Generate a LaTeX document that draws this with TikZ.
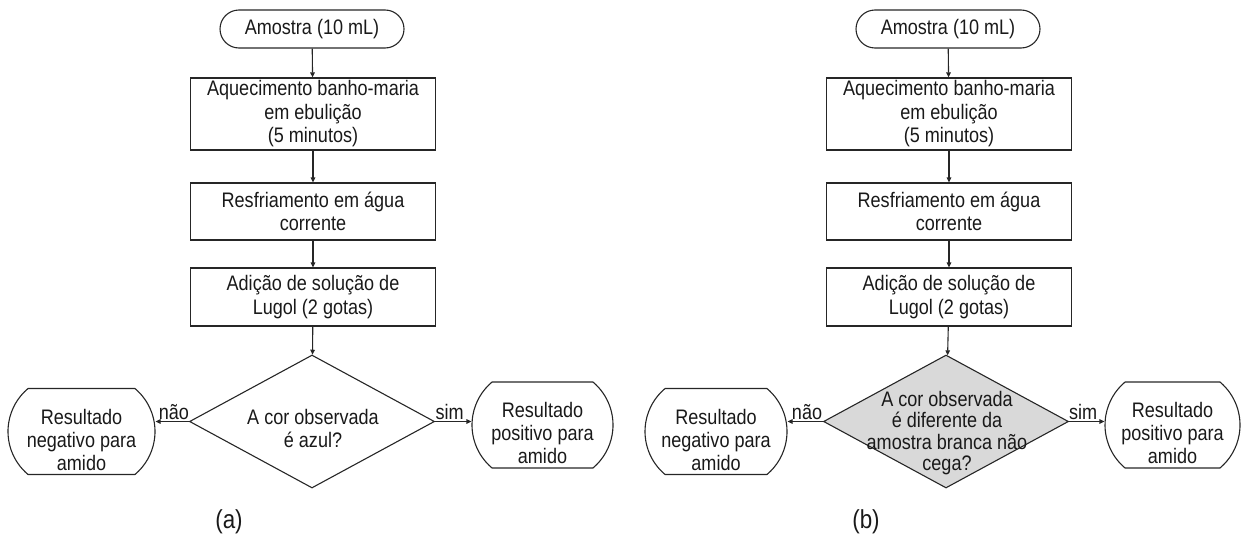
\documentclass[tikz,border=0pt]{standalone}
\usepackage{fontspec}
\setmainfont{Liberation Sans}[FakeStretch=0.86]
\usetikzlibrary{shapes.misc,shapes.geometric,arrows.meta}
\tikzset{
  ln/.style={draw=black!85, line width=1.1pt},
  arr/.style={ln, -{Triangle[length=5pt,width=4.5pt]}},
  startterm/.style={ln, rounded rectangle, rounded rectangle arc length=180, minimum width=184pt, minimum height=38pt, inner sep=0pt, font=\fontsize{21}{24}\selectfont, text=black!90},
  resterm/.style={ln, rounded rectangle, rounded rectangle arc length=100, minimum height=86pt, inner sep=0pt},
  stepbox/.style={ln, rectangle, minimum width=245pt, inner sep=0pt, align=center, font=\fontsize{21}{23.5}\selectfont, text=black!90},
  decision/.style={ln, diamond, minimum width=245pt, minimum height=133pt, inner sep=0pt},
  txt/.style={align=center, inner sep=0pt, font=\fontsize{21}{23}\selectfont, text=black!90},
  lbl/.style={above, inner sep=1.5pt, font=\fontsize{21}{24}\selectfont, text=black!90},
  captxt/.style={font=\fontsize{26}{28}\selectfont, text=black!90, inner sep=0pt}
}
\begin{document}
\begin{tikzpicture}[x=1pt,y=-1pt]
\useasboundingbox (0,0) rectangle (1257,546);
% ---------- (a) ----------
\node[startterm] (sA) at (312,29) {Amostra (10 mL)};
\node[stepbox, minimum height=72pt] (b1A) at (313,114) {Aquecimento banho-maria\\em ebulição\\(5 minutos)};
\node[stepbox, minimum height=57pt] (b2A) at (313,211.5) {Resfriamento em água\\corrente};
\node[stepbox, minimum height=58pt] (b3A) at (313,297) {Adição de solução de\\Lugol (2 gotas)};
\node[decision] (dA) at (312,421.5) {};
\node[txt] (dAt) at (313,428) {A cor observada\\é azul?};
\node[resterm, minimum width=147pt] (nA) at (81.5,431.5) {};
\node[txt] (nAt) at (81.5,440) {Resultado\\negativo para\\amido};
\node[resterm, minimum width=141pt] (pA) at (542.5,425) {};
\node[txt] (pAt) at (542.5,433) {Resultado\\positivo para\\amido};
\draw[arr] (sA) -- (b1A);
\draw[arr] (b1A) -- (b2A);
\draw[arr] (b2A) -- (b3A);
\draw[arr] (b3A) -- (dA);
\draw[arr] (dA.west) -- (dA.west -| nA.east) node[lbl, pos=0.45] (naoA) {não};
\draw[arr] (dA.east) -- (dA.east -| pA.west) node[lbl, pos=0.4] (simA) {sim};
\node[captxt] (capA) at (229,522) {(a)};
% ---------- (b) ----------
\node[startterm] (sB) at (948,29) {Amostra (10 mL)};
\node[stepbox, minimum height=72pt] (b1B) at (949,114) {Aquecimento banho-maria\\em ebulição\\(5 minutos)};
\node[stepbox, minimum height=57pt] (b2B) at (949,211.5) {Resfriamento em água\\corrente};
\node[stepbox, minimum height=58pt] (b3B) at (949,297) {Adição de solução de\\Lugol (2 gotas)};
\node[decision, fill=black!15] (dB) at (946,421.5) {};
\node[txt, font=\fontsize{21}{21.5}\selectfont] (dBt) at (947,433) {A cor observada\\é diferente da\\amostra branca não\\cega?};
\node[resterm, minimum width=142pt] (nB) at (716,431.5) {};
\node[txt] (nBt) at (716,440) {Resultado\\negativo para\\amido};
\node[resterm, minimum width=135pt] (pB) at (1172.5,425) {};
\node[txt] (pBt) at (1172.5,433) {Resultado\\positivo para\\amido};
\draw[arr] (sB) -- (b1B);
\draw[arr] (b1B) -- (b2B);
\draw[arr] (b2B) -- (b3B);
\draw[arr] (b3B) -- (dB);
\draw[arr] (dB.west) -- (dB.west -| nB.east) node[lbl, pos=0.45] (naoB) {não};
\draw[arr] (dB.east) -- (dB.east -| pB.west) node[lbl, pos=0.4] (simB) {sim};
\node[captxt] (capB) at (866,522) {(b)};
\end{tikzpicture}
\end{document}
